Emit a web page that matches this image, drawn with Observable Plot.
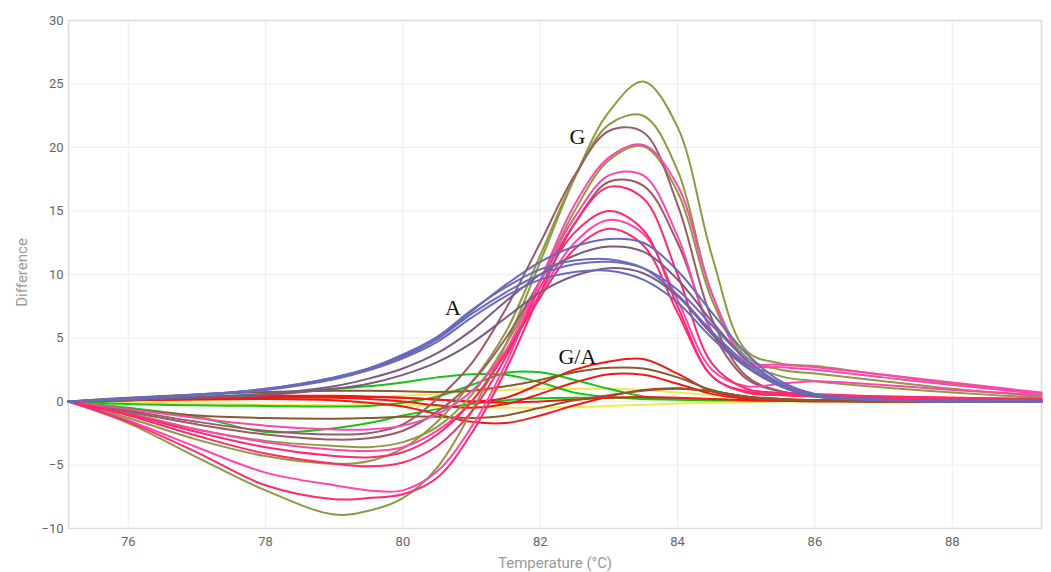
<!DOCTYPE html>
<html><head><meta charset="utf-8">
<script src="https://cdn.jsdelivr.net/npm/d3@7"></script>
<script src="https://cdn.jsdelivr.net/npm/@observablehq/plot@0.6"></script>
<style>body{margin:0;background:#fff;}</style>
</head><body><div id="chart"></div>
<script>
// Temperatures (°C) at which each curve is sampled
const temps = [75.13, 76, 77, 78, 79, 79.5, 80, 80.5, 81, 81.5, 82, 82.5, 83, 83.5, 84, 84.5, 85, 85.5, 86, 87, 88, 89.3];

const seriesNames = ["Y1","Y2","Ga","Gb","Gc","Ra","Rb","Rc","Rd","Br1","Br2",
  "O1","O2","O3","M1","M2","HP1","HP2","HP3","C1","C2","C3",
  "P1","P2","B1","B2","B3","B4"];
const seriesGroups = ["yellow","yellow","green","green","green","red","red","red","red","brown","brown",
  "olive","olive","olive","mauve","mauve","hotpink","hotpink","hotpink","crimson","crimson","crimson",
  "purple","purple","blue","blue","blue","blue"];

const Y1 = [0,0.05,0.1,0.2,0.3,0.35,0.45,0.6,0.8,0.9,1.0,1.0,1.0,0.9,0.7,0.5,0.3,0.2,0.1,0.05,0,0];
const Y2 = [0,-0.1,-0.15,-0.25,-0.3,-0.3,-0.3,-0.35,-0.45,-0.5,-0.5,-0.45,-0.35,-0.25,-0.15,-0.1,-0.05,0,0,0,0,0];
const Ga = [0,0.1,0.3,0.6,1.0,1.2,1.5,1.9,2.15,2.1,1.5,0.7,0.35,0.2,0.15,0.1,0.1,0.05,0.05,0,0,0];
const Gb = [0,-0.2,-0.3,-0.35,-0.4,-0.35,-0.1,0.4,1.3,2.25,2.3,1.7,1.0,0.4,0.15,0.1,0.1,0.05,0.05,0,0,0];
const Gc = [0,-0.5,-1.2,-2.4,-2.1,-1.7,-1.1,-0.6,-0.2,0.1,0.25,0.3,0.3,0.25,0.2,0.15,0.1,0.05,0.05,0,0,0];
const Ra = [0,0.15,0.25,0.35,0.4,0.35,0.3,0.15,0.0,0.3,1.4,2.5,3.15,3.35,2.2,0.8,0.3,0.15,0.1,0.05,0,0];
const Rb = [0,0.1,0.15,0.2,0.1,-0.1,-0.4,-1.0,-1.6,-1.7,-1.1,-0.3,0.4,0.9,1.05,0.8,0.4,0.2,0.1,0.05,0,0];
const Rc = [0,0.1,0.2,0.3,0.3,0.2,0.0,-0.3,-0.5,-0.2,0.6,1.5,2.15,2.1,1.4,0.6,0.2,0.1,0.05,0,0,0];
const Rd = [0,0.2,0.35,0.45,0.45,0.4,0.3,0.15,0.0,-0.1,0.0,0.15,0.3,0.35,0.3,0.2,0.1,0.05,0,0,0,0];
const Br1 = [0,0.3,0.55,0.75,0.85,0.85,0.8,0.75,0.85,1.2,1.7,2.3,2.65,2.6,1.9,0.9,0.35,0.15,0.1,0.05,0,0];
const Br2 = [0,-0.6,-1.1,-1.3,-1.35,-1.3,-1.2,-1.2,-1.3,-1.1,-0.5,0.1,0.5,0.85,1.0,0.8,0.4,0.2,0.1,0.05,0,0];
const O1 = [0,-1.7,-4.4,-7.0,-8.9,-8.6,-7.6,-5.2,-0.8,4.5,11.0,17.6,22.8,25.2,21.6,11.5,4.0,3.0,2.8,2.1,1.4,0.6];
const O2 = [0,-1.3,-3.0,-4.3,-4.9,-4.7,-3.7,-1.6,1.5,5.5,11.5,17.6,21.8,22.5,18.2,8.5,3.5,2.5,2.2,1.6,1.0,0.4];
const O3 = [0,-0.9,-2.2,-3.1,-3.5,-3.6,-3.2,-2.0,0.5,4.5,9.5,15.0,19.0,20.1,16.5,8.0,3.2,2.0,1.6,1.1,0.7,0.3];
const M1 = [0,-0.7,-1.6,-2.3,-2.6,-2.5,-1.8,0.2,3.0,7.3,12.5,17.8,21.3,21.2,15.5,6.5,2.0,0.8,0.4,0.2,0.1,0.05];
const M2 = [0,-0.8,-1.8,-2.6,-3.0,-2.9,-2.3,-0.8,1.5,5.0,9.5,14.0,17.3,17.0,12.5,5.5,1.8,0.8,0.5,0.3,0.15,0.1];
const HP1 = [0,-1.5,-3.6,-5.6,-6.6,-7.0,-7.0,-5.5,-2.0,3.0,9.5,15.5,19.2,20.2,17.0,8.5,3.2,2.9,2.7,2.1,1.5,0.7];
const HP2 = [0,-1.0,-2.2,-3.2,-3.8,-3.9,-3.6,-2.3,0.0,4.0,9.5,14.5,17.8,17.8,13.0,5.5,2.9,2.7,2.5,1.9,1.3,0.6];
const HP3 = [0,-0.6,-1.3,-1.9,-2.2,-2.2,-1.9,-1.0,0.8,4.0,8.5,12.5,14.3,13.2,8.0,2.5,1.2,1.4,1.6,1.3,0.9,0.5];
const C1 = [0,-1.6,-4.0,-6.6,-7.7,-7.6,-7.3,-6.0,-2.5,2.5,8.5,14.0,16.9,16.0,10.0,3.0,1.0,0.7,0.6,0.4,0.3,0.2];
const C2 = [0,-1.1,-2.7,-4.1,-4.9,-5.1,-4.8,-3.5,-0.8,3.5,9.0,13.3,15.0,13.5,7.5,2.0,0.8,0.6,0.5,0.4,0.3,0.2];
const C3 = [0,-1.0,-2.4,-3.6,-4.3,-4.4,-4.0,-2.6,0.0,3.8,8.2,12.0,13.6,12.3,7.0,2.0,0.7,0.5,0.4,0.3,0.2,0.1];
const P1 = [0,0.15,0.35,0.6,1.2,1.8,2.6,3.8,5.6,7.9,10.0,11.5,12.2,11.8,9.6,6.3,3.3,1.4,0.5,0.1,0,0];
const P2 = [0,0.1,0.3,0.5,1.0,1.4,2.1,3.1,4.6,6.6,8.6,9.9,10.5,10.1,8.3,5.3,2.8,1.2,0.4,0.1,0,0];
const B1 = [0,0.25,0.55,1.0,1.9,2.6,3.6,5.0,7.1,9.2,11.0,12.2,12.8,12.5,10.3,7.0,3.8,1.6,0.6,0.15,0.05,0];
const B2 = [0,0.25,0.55,1.0,1.9,2.6,3.7,5.1,7.2,9.0,10.4,11.1,11.2,10.5,8.4,5.5,3.0,1.3,0.5,0.1,0.05,0];
const B3 = [0,0.2,0.5,0.95,1.8,2.5,3.5,4.9,6.9,8.6,10.0,10.8,11.0,10.5,8.8,6.0,3.3,1.4,0.5,0.1,0,0];
const B4 = [0,0.2,0.5,0.9,1.75,2.45,3.4,4.7,6.6,8.3,9.6,10.2,10.3,9.6,7.8,5.0,2.7,1.2,0.45,0.1,0,0];
const seriesValues = [Y1,Y2,Ga,Gb,Gc,Ra,Rb,Rc,Rd,Br1,Br2,O1,O2,O3,M1,M2,HP1,HP2,HP3,C1,C2,C3,P1,P2,B1,B2,B3,B4];

const groupNames = ["yellow","green","red","brown","olive","mauve","hotpink","crimson","purple","blue"];
const groupColors = ["#f2ea4c","#16c216","#ee1a1a","#8a5a2e","#8e9a40","#9a5a66","#ff45b0","#ff2a6e","#7b5b80","#6a6abb"];

const xTicks = [76, 78, 80, 82, 84, 86, 88];
const yTicks = [-10, -5, 0, 5, 10, 15, 20, 25, 30];

const noteText = ["A", "G", "G/A"];
const noteX = [80.73, 82.54, 82.54];
const noteY = [7.4, 20.8, 3.5];

const rows = seriesValues.flatMap((vals, i) =>
  vals.map((v, j) => ({series: seriesNames[i], group: seriesGroups[i], t: temps[j], d: v})));
const notes = noteText.map((s, i) => ({text: s, x: noteX[i], y: noteY[i]}));

const chart = Plot.plot({
  width: 1051, height: 572,
  marginLeft: 68, marginRight: 10, marginTop: 20, marginBottom: 44,
  style: {fontFamily: "Roboto, sans-serif", fontSize: "13px", color: "#666", background: "#fff", overflow: "visible"},
  x: {domain: [75.13, 89.3]},
  y: {domain: [-10, 30]},
  color: {domain: groupNames, range: groupColors},
  marks: [
    Plot.gridX(xTicks, {stroke: "#ececec", strokeOpacity: 1}),
    Plot.gridY(yTicks, {stroke: "#ececec", strokeOpacity: 1}),
    Plot.frame({stroke: "#dcdcdc", strokeWidth: 1.5}),
    Plot.line(rows, {x: "t", y: "d", z: "series", stroke: "group", strokeWidth: 2, curve: "catmull-rom"}),
    Plot.text(notes, {x: "x", y: "y", text: "text", fontFamily: "'Liberation Serif', 'DejaVu Serif', serif", fontSize: 22, fill: "#111"}),
    Plot.axisX(xTicks, {tickSize: 0, tickPadding: 8, label: null, fill: "#666", fontSize: 13}),
    Plot.axisY(yTicks, {tickSize: 0, tickPadding: 5, label: null, fill: "#666", fontSize: 13}),
    Plot.text(["Temperature (°C)"], {frameAnchor: "bottom", dy: 39, fill: "#999", fontSize: 15}),
    Plot.text(["Difference"], {frameAnchor: "left", textAnchor: "middle", dx: -46, dy: -2, rotate: -90, fill: "#999", fontSize: 15})
  ]
});
document.getElementById("chart").append(chart);
</script>
</body></html>
